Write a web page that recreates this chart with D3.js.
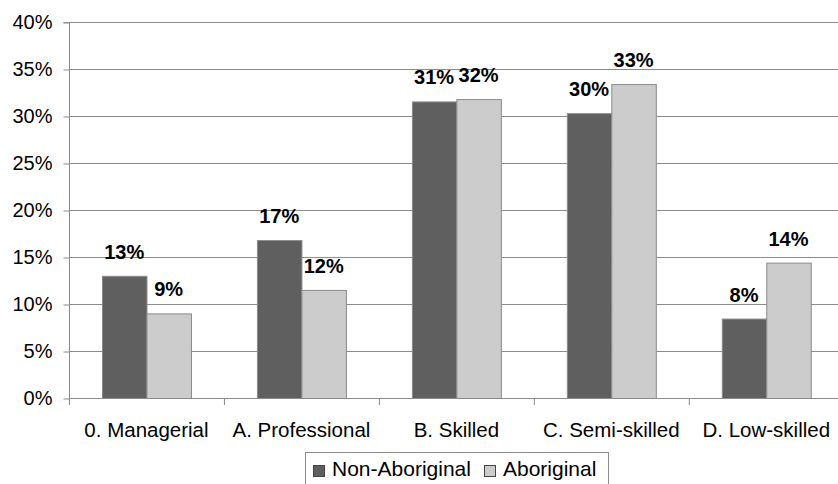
<!DOCTYPE html>
<html><head><meta charset="utf-8">
<script src="https://cdn.jsdelivr.net/npm/d3@7"></script>
<style>body{margin:0;background:#fff}svg{display:block}</style>
</head><body>
<svg id="c" width="838" height="484"></svg>
<script>
const categories = ["0. Managerial","A. Professional","B. Skilled","C. Semi-skilled","D. Low-skilled"];
const seriesNames = ["Non-Aboriginal","Aboriginal"];
const nonAboriginal = [13.0, 16.8, 31.55, 30.3, 8.45];
const aboriginal = [9.0, 11.5, 31.8, 33.4, 14.4];
const nonAboriginalLabels = ["13%","17%","31%","30%","8%"];
const aboriginalLabels = ["9%","12%","32%","33%","14%"];
const yTicks = [0,5,10,15,20,25,30,35,40];
const colors = ["#5f5f5f","#cccccc"];

(function(){
const svg = d3.select("#c");
const pL = 69, pR = 843.75, pT = 22, pB = 398;
const x0 = d3.scaleBand().domain(categories).range([pL, pR]);
const gap = 33;
const x1 = d3.scaleBand().domain(seriesNames).range([gap, x0.step() - gap]);
const y = d3.scaleLinear().domain([0, 40]).range([pB, pT]);
const FONT = "Liberation Sans, Arial, sans-serif";

// gridlines
svg.append("g").selectAll("line").data(yTicks.filter(d => d > 0)).join("line")
  .attr("x1", pL).attr("x2", pR)
  .attr("y1", d => y(d) + 0.5).attr("y2", d => y(d) + 0.5)
  .attr("stroke", "#8c8c8c").attr("stroke-width", 1);

// y axis
const yAxis = d3.axisLeft(y).tickValues(yTicks).tickFormat(d => d + "%").tickSize(6).tickPadding(11);
const gy = svg.append("g").attr("transform", `translate(${pL + 0.5},0.5)`).call(yAxis);
gy.select(".domain").attr("stroke", "#8c8c8c").attr("d", `M-6,${pT}H0V${pB}`);
gy.selectAll(".tick line").attr("stroke", "#8c8c8c");
gy.selectAll("text").attr("font-family", FONT).attr("font-size", 20).attr("fill", "#000");

// x axis
const xAxis = d3.axisBottom(x0).tickSize(0).tickPadding(24);
const gx = svg.append("g").attr("transform", `translate(0,${pB + 0.5})`).call(xAxis);
gx.select(".domain").attr("stroke", "#8c8c8c").attr("d", `M${pL},0H${pR}`);
gx.selectAll("text").attr("font-family", FONT).attr("font-size", 20.5).attr("fill", "#000");
// boundary ticks
svg.append("g").selectAll("line").data(d3.range(categories.length + 1)).join("line")
  .attr("x1", i => pL + i * x0.step() + 0.5).attr("x2", i => pL + i * x0.step() + 0.5)
  .attr("y1", pB).attr("y2", pB + 7)
  .attr("stroke", "#8c8c8c");

const data = categories.map((c, i) => ({c, vals: [
  {s: seriesNames[0], v: nonAboriginal[i], l: nonAboriginalLabels[i], col: colors[0]},
  {s: seriesNames[1], v: aboriginal[i], l: aboriginalLabels[i], col: colors[1]}
]}));

const groups = svg.append("g").selectAll("g").data(data).join("g")
  .attr("transform", d => `translate(${x0(d.c)},0)`);
groups.selectAll("rect").data(d => d.vals).join("rect")
  .attr("x", d => x1(d.s) + 0.5).attr("width", x1.bandwidth())
  .attr("y", d => y(d.v) + 0.5).attr("height", d => pB - y(d.v))
  .attr("fill", d => d.col).attr("stroke", "#8a8a8a").attr("stroke-width", 1);
groups.selectAll("text").data(d => d.vals).join("text")
  .attr("x", d => x1(d.s) + x1.bandwidth() / 2)
  .attr("y", d => y(d.v) - 17)
  .attr("text-anchor", "middle")
  .attr("font-family", FONT).attr("font-weight", "bold").attr("font-size", 20)
  .attr("fill", "#000").text(d => d.l);

// legend
const lg = svg.append("g");
lg.append("rect").attr("x", 305.5).attr("y", 452.5).attr("width", 303).attr("height", 40)
  .attr("fill", "#fff").attr("stroke", "#8c8c8c");
const legendX = [313, 484];
seriesNames.forEach((s, i) => {
  lg.append("rect").attr("x", legendX[i] + 0.5).attr("y", 465.5).attr("width", 11).attr("height", 11)
    .attr("fill", colors[i]).attr("stroke", "#444");
  lg.append("text").attr("x", legendX[i] + 19).attr("y", 476)
    .attr("font-family", FONT).attr("font-size", 21).attr("fill", "#000").text(s);
});
})();
</script>
</body></html>
